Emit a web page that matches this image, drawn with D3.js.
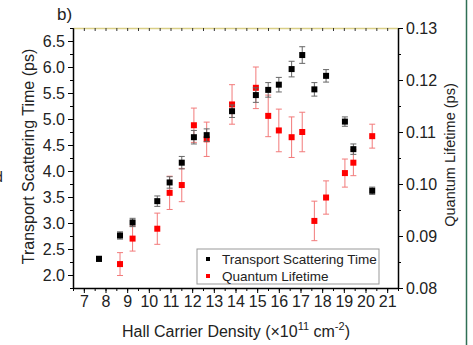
<!DOCTYPE html>
<meta charset="utf-8">
<style>
  body { margin: 0; background: white; }
  text { font-family: "Liberation Sans", Arial, sans-serif; }
</style>
<script src="https://cdnjs.cloudflare.com/ajax/libs/d3/7.8.5/d3.min.js"></script>
<svg id="chart" width="473" height="345"></svg>
<script>
// Hall carrier density (x10^11 cm^-2)
const density = [7.70, 8.67, 9.25, 10.39, 10.96, 11.52, 12.08, 12.67, 13.84, 14.94,
                 15.51, 16.0, 16.59, 17.08, 17.64, 18.18, 19.05, 19.44, 20.31];
// transport scattering time (ps), left axis
const transport = [2.31, 2.76, 3.01, 3.42, 3.78, 4.16, 4.65, 4.69, 5.15, 5.46,
                   5.56, 5.66, 5.96, 6.23, 5.57, 5.83, 4.95, 4.42, 3.62];
const transportErr = [0.05, 0.07, 0.08, 0.1, 0.11, 0.12, 0.13, 0.12, 0.12, 0.14,
                      0.14, 0.14, 0.15, 0.16, 0.13, 0.12, 0.09, 0.1, 0.07];
// quantum lifetime (ps), right axis - measured at fewer densities
const qDensity = [8.67, 9.25, 10.39, 10.96, 11.52, 12.08, 12.67, 13.84, 14.94,
                  15.51, 16.0, 16.59, 17.08, 17.64, 18.18, 19.05, 19.44, 20.31];
const quantum = [0.0846, 0.0895, 0.0914, 0.0983, 0.0998, 0.1113, 0.1086, 0.1153, 0.1185,
                 0.1131, 0.1103, 0.1090, 0.1100, 0.0929, 0.0974, 0.1021, 0.1041, 0.1092];
const quantumErr = [0.0022, 0.0024, 0.0030, 0.0032, 0.0032, 0.0033, 0.0033, 0.0038, 0.0040,
                    0.0040, 0.0041, 0.0039, 0.0038, 0.0038, 0.0032, 0.0027, 0.0025, 0.0023];

const xTicks = d3.range(7, 22, 1);
const leftTicks = [2.0, 2.5, 3.0, 3.5, 4.0, 4.5, 5.0, 5.5, 6.0, 6.5];
const rightTicks = [0.08, 0.09, 0.10, 0.11, 0.12, 0.13];

const svg = d3.select("#chart");
const L = 73, R = 398, T = 28, B = 288;

const x = d3.scaleLinear().domain([6.5, 21.5]).range([L, R]);
const yL = d3.scaleLinear().domain([1.75, 6.75]).range([B, T]);
const yR = d3.scaleLinear().domain([0.08, 0.13]).range([B, T]);

// bottom axis
const bottomAxis = svg.append("g").attr("transform", `translate(0,${B})`);
bottomAxis.call(d3.axisBottom(x).tickValues(d3.range(6.5, 21.6, 0.5)).tickSize(3).tickFormat(""));
bottomAxis.call(g => g.select(".domain").remove());
bottomAxis.append("g").call(d3.axisBottom(x).tickValues(xTicks).tickSize(5).tickSizeOuter(0)
    .tickFormat(d3.format("d")))
  .call(g => g.selectAll("text").attr("font-size", 16).attr("fill", "#222"))
  .call(g => g.select(".domain").attr("stroke-width", 1.5));

// top axis (mirror, ticks inward)
const topAxis = svg.append("g").attr("transform", `translate(0,${T})`);
topAxis.call(d3.axisBottom(x).tickValues(d3.range(6.5, 21.6, 0.5)).tickSize(3).tickSizeOuter(0).tickFormat(""))
  .call(g => g.select(".domain").attr("stroke", "#d9cf86").attr("stroke-width", 1.5))
  .call(g => g.selectAll(".tick line").attr("stroke", "#333"));

// left axis
const leftAxis = svg.append("g").attr("transform", `translate(${L},0)`);
leftAxis.call(d3.axisLeft(yL).tickValues(d3.range(1.75, 6.76, 0.25)).tickSize(3).tickFormat(""))
  .call(g => g.select(".domain").remove());
leftAxis.append("g").call(d3.axisLeft(yL).tickValues(leftTicks).tickSize(5).tickSizeOuter(0)
    .tickFormat(d3.format(".1f")))
  .call(g => g.selectAll("text").attr("font-size", 16).attr("fill", "#222"))
  .call(g => g.select(".domain").attr("stroke-width", 1.5));

// right axis
const rightAxis = svg.append("g").attr("transform", `translate(${R},0)`);
rightAxis.call(d3.axisRight(yR).tickValues(d3.range(0.08, 0.1301, 0.005)).tickSize(3).tickFormat(""))
  .call(g => g.select(".domain").remove());
rightAxis.append("g").call(d3.axisRight(yR).tickValues(rightTicks).tickSize(5).tickSizeOuter(0)
    .tickFormat(d3.format(".2f")))
  .call(g => g.selectAll("text").attr("font-size", 16).attr("fill", "#222"))
  .call(g => g.select(".domain").attr("stroke-width", 1.5));

// error bars + markers
function drawSeries(xs, ys, es, yScale, barColor, fill, size) {
  const g = svg.append("g");
  const pts = xs.map((d, i) => ({ x: d, y: ys[i], e: es[i] }));
  const eb = g.selectAll("g.eb").data(pts).join("g").attr("class", "eb")
    .attr("stroke", barColor).attr("stroke-width", 1);
  eb.append("line")
    .attr("x1", d => x(d.x)).attr("x2", d => x(d.x))
    .attr("y1", d => yScale(d.y - d.e)).attr("y2", d => yScale(d.y + d.e));
  eb.append("line")
    .attr("x1", d => x(d.x) - 3).attr("x2", d => x(d.x) + 3)
    .attr("y1", d => yScale(d.y - d.e)).attr("y2", d => yScale(d.y - d.e));
  eb.append("line")
    .attr("x1", d => x(d.x) - 3).attr("x2", d => x(d.x) + 3)
    .attr("y1", d => yScale(d.y + d.e)).attr("y2", d => yScale(d.y + d.e));
  g.selectAll("rect").data(pts).join("rect")
    .attr("x", d => x(d.x) - size / 2).attr("y", d => yScale(d.y) - size / 2)
    .attr("width", size).attr("height", size).attr("fill", fill);
}
drawSeries(qDensity, quantum, quantumErr, yR, "#f27a7a", "#ff0000", 6);
drawSeries(density, transport, transportErr, yL, "#666", "#000", 6);

// legend
const leg = svg.append("g").attr("transform", "translate(197,249)");
leg.append("rect").attr("width", 182).attr("height", 35)
  .attr("fill", "white").attr("stroke", "#999").attr("stroke-width", 1);
const legendItems = [
  { label: "Transport Scattering Time", color: "#000" },
  { label: "Quantum Lifetime", color: "#ff0000" }
];
legendItems.forEach((d, i) => {
  leg.append("rect").attr("x", 9).attr("y", 8 + i * 17).attr("width", 4).attr("height", 4)
    .attr("fill", d.color);
  leg.append("text").attr("x", 25).attr("y", 15 + i * 17).attr("font-size", 13.5)
    .attr("fill", "#222").text(d.label);
});

// titles
svg.append("text").attr("x", 57).attr("y", 20).attr("font-size", 17).attr("fill", "#222").text("b)");
svg.append("text").attr("transform", `translate(34,${(40 + 273) / 2}) rotate(-90)`)
  .attr("text-anchor", "middle").attr("font-size", 16).attr("fill", "#222")
  .text("Transport Scattering Time (ps)");
svg.append("text").attr("transform", `translate(455,155) rotate(-90)`)
  .attr("text-anchor", "middle").attr("font-size", 14.5).attr("fill", "#222")
  .text("Quantum Lifetime (ps)");
const xl = svg.append("text").attr("x", 236).attr("y", 337).attr("text-anchor", "middle")
  .attr("font-size", 16).attr("fill", "#222");
xl.append("tspan").text("Hall Carrier Density (\u00d710");
xl.append("tspan").attr("dy", -7).attr("font-size", 11).text("11");
xl.append("tspan").attr("dy", 7).text(" cm");
xl.append("tspan").attr("dy", -7).attr("font-size", 11).text("-2");
xl.append("tspan").attr("dy", 7).text(")");

// cropped-image artifacts: frame edge and partial text at left
svg.append("line").attr("x1", 466.5).attr("x2", 466.5).attr("y1", 0).attr("y2", 345)
  .attr("stroke", "#2f6f55").attr("stroke-width", 1.5);
svg.append("text").attr("x", -5).attr("y", 182).attr("font-size", 14).attr("fill", "#222").text("d");
</script>
